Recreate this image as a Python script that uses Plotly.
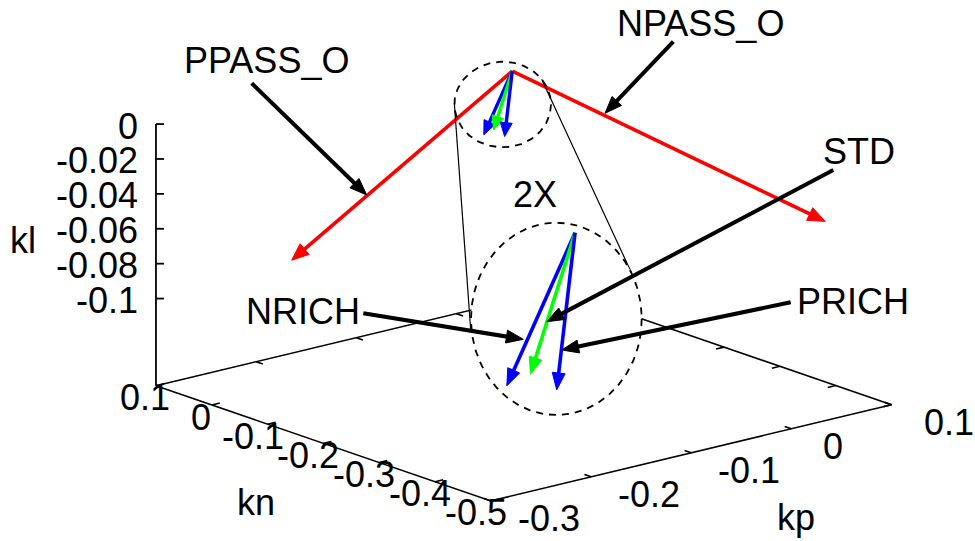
import math
import plotly.graph_objects as go

# ---------------- data ----------------
KN_RANGE = [0.1, -0.5]
KP_RANGE = [-0.3, 0.1]
KL_RANGE = [-0.1, 0.0]
KN_TICKS = [0.1, 0.0, -0.1, -0.2, -0.3, -0.4, -0.5]
KP_TICKS = [-0.3, -0.2, -0.1, 0.0, 0.1]
KL_TICKS = [0.0, -0.02, -0.04, -0.06, -0.08, -0.1]

# main vectors (start at origin)
BIG_NAMES = ["PPASS_O", "NPASS_O"]
BIG_KN = [0.0, -0.5]
BIG_KP = [-0.2202, 0.0336]
BIG_KL = [-0.078, -0.0358]
BIG_COLORS = ["#ff0000", "#ff0000"]

SMALL_NAMES = ["NRICH", "STD", "PRICH"]
SMALL_KN = [0.033, 0.010, -0.010]
SMALL_KP = [-0.010, -0.013, -0.0132]
SMALL_KL = [-0.0388, -0.0331, -0.0346]
SMALL_COLORS = ["#0000ff", "#00ff00", "#0000ff"]

MAG = 2.4            # magnification of the inset
MAG_LABEL = "2X"

# ---------------- view (orthographic, gnuplot-like) ----------------
ROT_Z = math.radians(39.9)
S_XY = 261.1          # screen units per normalised xy unit
DEPTH = 75.0          # vertical squash of the base plane
S_Z = 87.25           # screen units per normalised z unit
CX, CY = 523.75, 220.75
TICSLEVEL = 0.5
W, H = 975, 541


def norm(v, rng):
    lo, hi = min(rng), max(rng)
    return (v - (lo + hi) / 2) / ((hi - lo) / 2)


def project(kn, kp, kl):
    xn = norm(kp, KP_RANGE)
    yn = norm(kn, [-0.5, 0.1])
    zn = norm(kl, KL_RANGE)
    c, s = math.cos(ROT_Z), math.sin(ROT_Z)
    X = CX + S_XY * (xn * c - yn * s)
    Y = CY - DEPTH * (xn * s + yn * c) - S_Z * zn
    return X, Y


KL_BASE = KL_RANGE[0] - TICSLEVEL * (KL_RANGE[1] - KL_RANGE[0])
kn_lo, kn_hi = -0.5, 0.1
kp_lo, kp_hi = KP_RANGE

L = project(kn_hi, kp_lo, KL_BASE)
F = project(kn_lo, kp_lo, KL_BASE)
R = project(kn_lo, kp_hi, KL_BASE)
B = project(kn_hi, kp_hi, KL_BASE)

fig = go.Figure()
annotations = []
FONT = dict(family="Liberation Sans, Arial, sans-serif", size=36, color="black")


def line(xs, ys, color="black", width=1.6, dash=None):
    fig.add_trace(go.Scatter(x=xs, y=ys, mode="lines", hoverinfo="skip",
                             line=dict(color=color, width=width, dash=dash),
                             showlegend=False))


def arrow(x0, y0, x1, y1, color, width=3.0, hl=15.0, hw=6.0):
    dx, dy = x1 - x0, y1 - y0
    n = math.hypot(dx, dy)
    ux, uy = dx / n, dy / n
    bx, by = x1 - hl * ux, y1 - hl * uy
    line([x0, bx + 0.3 * hl * ux], [y0, by + 0.3 * hl * uy], color, width)
    px, py = -uy, ux
    fig.add_trace(go.Scatter(
        x=[x1, bx + hw * px, bx - hw * px, x1],
        y=[y1, by + hw * py, by - hw * py, y1],
        mode="lines", fill="toself", fillcolor=color,
        line=dict(color=color, width=1), hoverinfo="skip", showlegend=False))


def text(x, y, s, xanchor="center"):
    annotations.append(dict(x=x, y=y, xref="x", yref="y", text=s, showarrow=False,
                            xanchor=xanchor, yanchor="middle", font=FONT))


# ---------------- base box and axes ----------------
line([L[0], F[0], R[0], B[0], L[0]], [L[1], F[1], R[1], B[1], L[1]])
top = project(kn_hi, kp_lo, KL_RANGE[1])
line([L[0], top[0]], [L[1], top[1]], width=1.8)

TICK = 0.04  # tick length in normalised units
for v in KN_TICKS:
    a = project(v, kp_lo, KL_BASE)
    b = project(v, kp_lo + TICK * (kp_hi - kp_lo) / 2, KL_BASE)
    line([a[0], b[0]], [a[1], b[1]])
    a2 = project(v, kp_hi, KL_BASE)
    b2 = project(v, kp_hi - TICK * (kp_hi - kp_lo) / 2, KL_BASE)
    line([a2[0], b2[0]], [a2[1], b2[1]])
    text(a[0] - 15 + (4 if v >= 0 else 0), a[1] + 12, f"{v:g}")
for v in KP_TICKS:
    a = project(kn_lo, v, KL_BASE)
    b = project(kn_lo + TICK * (kn_hi - kn_lo) / 2, v, KL_BASE)
    line([a[0], b[0]], [a[1], b[1]])
    a2 = project(kn_hi, v, KL_BASE)
    b2 = project(kn_hi - TICK * (kn_hi - kn_lo) / 2, v, KL_BASE)
    line([a2[0], b2[0]], [a2[1], b2[1]])
    text(a[0] + 25 + (5 if v >= 0 else 0), a[1] + 18, f"{v:g}", "left")
for v in KL_TICKS:
    a = project(kn_hi, kp_lo, v)
    line([a[0], a[0] + 8], [a[1], a[1]], width=1.8)
    text(a[0] - 16, a[1] + 2, f"{v:g}", "right")

text(L[0] - 132.6, 240, "kl")
text(F[0] - 235, F[1] + 2, "kn")
text(F[0] + 305, F[1] + 17, "kp")

# ---------------- main vectors ----------------
O = project(0, 0, 0)
for kn, kp, kl, col in zip(BIG_KN, BIG_KP, BIG_KL, BIG_COLORS):
    e = project(kn, kp, kl)
    arrow(O[0], O[1], e[0], e[1], col, 3.6, 17, 7)
for kn, kp, kl, col in zip(SMALL_KN, SMALL_KP, SMALL_KL, SMALL_COLORS):
    e = project(kn, kp, kl)
    arrow(O[0], O[1], e[0], e[1], col, 3.4, 14, 6)

# ---------------- magnifier ----------------
SMALL_CIRCLE = dict(x0=454.4, x1=551.0, y0=61.7, y1=147.3)
BIG_CIRCLE = dict(x0=471.0, x1=641.7, y0=222.7, y1=415.0)

# connector lines
line([454.3, 470.7], [102.7, 330.0], width=1.2)
line([541.7, 631.7], [79.3, 273.3], width=1.2)

# white disc of the enlarged view (covers the base box behind it)
bcx = (BIG_CIRCLE["x0"] + BIG_CIRCLE["x1"]) / 2
bcy = (BIG_CIRCLE["y0"] + BIG_CIRCLE["y1"]) / 2
brx = (BIG_CIRCLE["x1"] - BIG_CIRCLE["x0"]) / 2
bry = (BIG_CIRCLE["y1"] - BIG_CIRCLE["y0"]) / 2
ts = [2 * math.pi * i / 160 for i in range(161)]
fig.add_trace(go.Scatter(x=[bcx + brx * math.cos(t) for t in ts],
                         y=[bcy + bry * math.sin(t) for t in ts],
                         mode="lines", fill="toself", fillcolor="white",
                         line=dict(color="black", width=1.8, dash="7px,6px"),
                         hoverinfo="skip", showlegend=False))
scx = (SMALL_CIRCLE["x0"] + SMALL_CIRCLE["x1"]) / 2
scy = (SMALL_CIRCLE["y0"] + SMALL_CIRCLE["y1"]) / 2
srx = (SMALL_CIRCLE["x1"] - SMALL_CIRCLE["x0"]) / 2
sry = (SMALL_CIRCLE["y1"] - SMALL_CIRCLE["y0"]) / 2
fig.add_trace(go.Scatter(x=[scx + srx * math.cos(t) for t in ts],
                         y=[scy + sry * math.sin(t) for t in ts],
                         mode="lines",
                         line=dict(color="black", width=1.8, dash="7px,6px"),
                         hoverinfo="skip", showlegend=False))

INSET_SHIFT = (62.8, 161.7)
IO = (O[0] + INSET_SHIFT[0], O[1] + INSET_SHIFT[1])
for kn, kp, kl, col in zip(SMALL_KN, SMALL_KP, SMALL_KL, SMALL_COLORS):
    e = project(kn, kp, kl)
    ex = IO[0] + MAG * (e[0] - O[0])
    ey = IO[1] + MAG * (e[1] - O[1])
    arrow(IO[0], IO[1], ex, ey, col, 3.6, 17, 6.5)

text(535, 194, MAG_LABEL)

# ---------------- callouts ----------------
CALLOUTS = [
    ("PPASS_O", (266.7, 60), (251.7, 83.3), (366.7, 195.0)),
    ("NPASS_O", (700.5, 23.3), (673.3, 41.7), (605.0, 113.3)),
    ("STD", (859.0, 151.7), (833.3, 170.0), (546.7, 321.7)),
    ("NRICH", (303.0, 311.3), (363.3, 313.3), (523.3, 339.3)),
    ("PRICH", (853.0, 301.3), (790.7, 302.3), (561.7, 350.0)),
]
for name, tp, a0, a1 in CALLOUTS:
    text(tp[0], tp[1], name)
    arrow(a0[0], a0[1], a1[0], a1[1], "black", 4.0, 17, 6.5)

fig.update_layout(
    width=W, height=H, margin=dict(l=0, r=0, t=0, b=0),
    paper_bgcolor="white", plot_bgcolor="white",
    xaxis=dict(range=[0, W], visible=False, fixedrange=True),
    yaxis=dict(range=[H, 0], visible=False, fixedrange=True),
    annotations=annotations, showlegend=False,
)
fig.write_html("out.html", config={"displayModeBar": False},
               post_script="document.body.style.margin='0';document.body.style.overflow='hidden';")
